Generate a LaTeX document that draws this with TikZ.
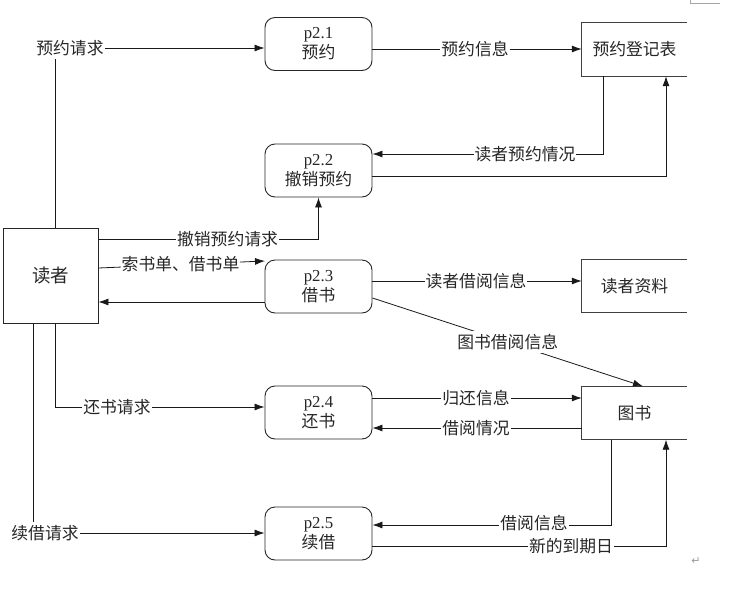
\documentclass[tikz,border=0pt]{standalone}
\usepackage{fontspec}
\setmainfont{Liberation Serif}
\newfontfamily\cjk{Noto Sans CJK SC}
\newfontfamily\symf{DejaVu Sans}
\usetikzlibrary{arrows.meta}
\begin{document}
\begin{tikzpicture}[x=1pt,y=-1pt,
  every node/.style={text=black!85, font=\fontsize{16.8}{20}\selectfont},
  proc/.style={draw=black!85, line width=0.9pt, rounded corners=10pt, minimum width=107pt, minimum height=53pt, align=center, inner sep=0pt},
  ent/.style={draw=black!85, line width=0.9pt, minimum width=95pt, minimum height=95pt, inner sep=0pt},
  store/.style={minimum width=105pt, minimum height=53pt, inner sep=0pt},
  storeline/.style={draw=black!75, line width=1.1pt},
  lbl/.style={fill=white, inner xsep=1pt, inner ysep=3pt},
  arr/.style={draw=black!90, line width=0.8pt, -{Latex[length=10pt,width=7pt]}},
  ln/.style={draw=black!90, line width=0.8pt}]
\useasboundingbox (0,0) rectangle (740,603);

% processes
\node[proc] (p21) at (318.5,44) {p2.1\\{\cjk 预约}};
\node[proc] (p22) at (318.5,170.5) {p2.2\\{\cjk 撤销预约}};
\node[proc] (p23) at (318.5,286.5) {p2.3\\{\cjk 借书}};
\node[proc] (p24) at (318.5,412.5) {p2.4\\{\cjk 还书}};
\node[proc] (p25) at (318.5,533.5) {p2.5\\{\cjk 续借}};

% external entity
\node[ent] (reader) at (50.5,275.5) {\cjk\fontsize{18.5}{20}\selectfont 读者};

% data stores (open on the right)
\node[store] (s1) at (634.5,49.5) {\cjk 预约登记表};
\node[store] (s2) at (634.5,286) {\cjk 读者资料};
\node[store] (s3) at (634.5,413) {\cjk 图书};
\foreach \s in {s1,s2,s3}{
  \draw[storeline] (\s.north east) -- (\s.north west) -- (\s.south west) -- (\s.south east);
}

% connectors
\draw[arr] (55,0 |- reader.north) |- (p21.west |- 0,48);
\draw[arr] (p21.east |- 0,49) -- (s1.west |- 0,49);
\draw[arr] (603,0 |- s1.south) |- (p22.east |- 0,154);
\draw[arr] (p22.east |- 0,176) -| (666,0 |- s1.south);
\draw[arr] (reader.east |- 0,239) -| (p22.south);
\coordinate (p23in) at (265,261);
\draw[arr] (reader.east |- 0,268) -- (p23in);
\draw[arr] (p23.west |- 0,302) -- (reader.east |- 0,302);
\draw[arr] (p23.east |- 0,281) -- (s2.west |- 0,281);
\draw[arr] (p23.east |- 0,298) -- node[lbl] (l9) {\cjk 图书借阅信息} (643,0 |- s3.north);
\draw[arr] (55,0 |- reader.south) |- (p24.west |- 0,407);
\draw[arr] (p24.east |- 0,398) -- (s3.west |- 0,398);
\draw[arr] (s3.west |- 0,428) -- (p24.east |- 0,428);
\draw[arr] (611,0 |- s3.south) |- (p25.east |- 0,525);
\draw[arr] (p25.east |- 0,546) -| (666,0 |- s3.south);
\draw[arr] (33,0 |- reader.south) |- (p25.west |- 0,533);

% labels
\node[lbl] (l1) at (70,48) {\cjk 预约请求};
\node[lbl] (l2) at (475,49) {\cjk 预约信息};
\node[lbl] (l3) at (525,154) {\cjk 读者预约情况};
\node[lbl] (l5) at (227.5,239) {\cjk 撤销预约请求};
\node[lbl] (l6) at (180.5,264) {\cjk 索书单、借书单};
\node[lbl] (l8) at (476,281) {\cjk 读者借阅信息};
\node[lbl] (l10) at (117,407) {\cjk 还书请求};
\node[lbl] (l11) at (476,398) {\cjk 归还信息};
\node[lbl] (l12) at (476,428) {\cjk 借阅情况};
\node[lbl] (l13) at (534,523) {\cjk 借阅信息};
\node[lbl] (l14) at (571,546) {\cjk 新的到期日};
\node[lbl] (l15) at (45,533) {\cjk 续借请求};

% page artifacts
\node[text=black!40, font=\symf\fontsize{11}{12}\selectfont] (ret) at (696,561) {↵};
\draw[black!35, line width=0.6pt] (690.5,0) -- (690.5,3.5) -- (720,3.5);
\end{tikzpicture}
\end{document}
